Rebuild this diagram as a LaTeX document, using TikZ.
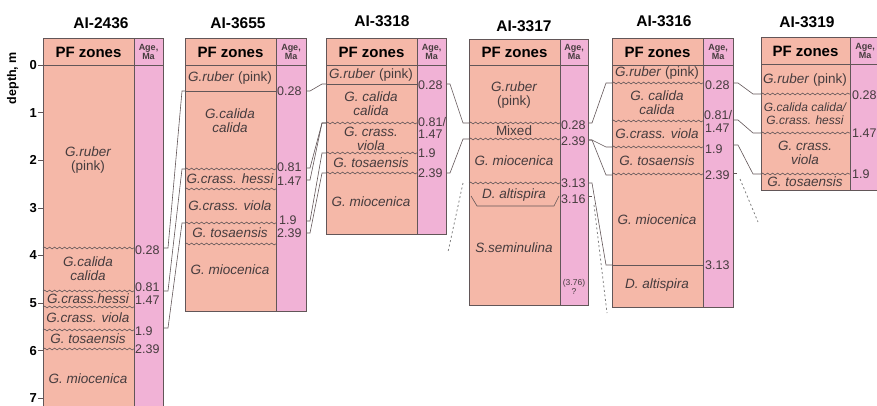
\documentclass[tikz,border=0pt]{standalone}
\usepackage{fontspec}
\setmainfont{Liberation Sans}
\usetikzlibrary{decorations.pathmorphing}
\definecolor{pfpink}{RGB}{245,184,168}
\definecolor{agepink}{RGB}{241,178,214}
\definecolor{frame}{RGB}{98,86,88}
\definecolor{ink}{RGB}{70,60,62}
\tikzset{
  pf/.style={fill=pfpink, draw=frame, line width=0.8pt},
  age/.style={fill=agepink, draw=frame, line width=0.8pt},
  wavy/.style={draw=frame, line width=0.6pt, decorate, decoration={snake, amplitude=0.9pt, segment length=5pt}},
  zone/.style={font=\fontsize{13.5}{14}\selectfont\itshape, text=ink, align=center, inner sep=0pt},
  ma/.style={font=\fontsize{12.5}{12}\selectfont, text=ink, anchor=west, inner sep=0pt},
  link/.style={draw=frame, line width=0.6pt},
  gap/.style={draw=gray, line width=0.8pt, dash pattern=on 2pt off 2.5pt},
  well/.style={font=\fontsize{15.5}{15}\selectfont\bfseries},
  head/.style={font=\fontsize{15}{15}\selectfont\bfseries, inner sep=0pt},
  headma/.style={font=\fontsize{9}{9}\selectfont\bfseries, text=ink, align=center, inner sep=0pt}
}
\begin{document}
\begin{tikzpicture}[x=1pt, y=-1pt]
\useasboundingbox (0,0) rectangle (877,405);

% depth scale
\node[rotate=90, font=\fontsize{12.5}{12}\selectfont\bfseries] (depth) at (13,78) {depth, m};
\foreach \d in {0,...,7} {
  \draw[frame, line width=0.6pt] (38,65+47.6*\d) -- (43,65+47.6*\d);
  \node[font=\fontsize{13}{13}\selectfont\bfseries, anchor=east, inner sep=1pt] (d\d) at (38,65+47.6*\d) {\d};
}

% AI-2436
\node[well] (t2436) at (101,23) {AI-2436};
\draw[pf] (43,38) rectangle (134,412);
\draw[age] (134,38) rectangle (163,412);
\draw[frame, line width=0.8pt] (43,65) -- (163,65);
\node[head] (p2436) at (88.5,52) {PF zones};
\node[headma] (m2436) at (148.5,52) {Age,\\Ma};
\foreach \y in {248,291,307,330,349} \draw[wavy] (43,\y) -- (134,\y);
\node[zone] (z2436a) at (88,160) {G.ruber\\\textup{(pink)}};
\node[zone] (z2436b) at (88,269) {G.calida\\calida};
\node[zone] (z2436c) at (88,299) {G.crass.hessi};
\node[zone] (z2436d) at (88,318) {G.crass. viola};
\node[zone] (z2436e) at (88,339) {G. tosaensis};
\node[zone] (z2436f) at (88,379) {G. miocenica};
\node[ma] (a2436a) at (135,250) {0.28};
\node[ma] (a2436b) at (135,287) {0.81};
\node[ma] (a2436c) at (135,300) {1.47};
\node[ma] (a2436d) at (135,331) {1.9};
\node[ma] (a2436e) at (135,349) {2.39};

% AI-3655
\node[well] (t3655) at (238,23) {AI-3655};
\draw[pf] (185,38) rectangle (276,311);
\draw[age] (276,38) rectangle (306,311);
\draw[frame, line width=0.8pt] (185,65) -- (306,65);
\draw[frame, line width=0.6pt] (185,91) -- (276,91);
\node[head] (p3655) at (230.5,52) {PF zones};
\node[headma] (m3655) at (291,52) {Age,\\Ma};
\foreach \y in {169,189,223,244} \draw[wavy] (185,\y) -- (276,\y);
\node[zone] (z3655a) at (230,78) {G.ruber \textup{(pink)}};
\node[zone] (z3655b) at (230,121) {G.calida\\calida};
\node[zone] (z3655c) at (230,179) {G.crass. hessi};
\node[zone] (z3655d) at (230,206) {G.crass. viola};
\node[zone] (z3655e) at (230,233) {G. tosaensis};
\node[zone] (z3655f) at (230,270) {G. miocenica};
\node[ma] (a3655a) at (277,91) {0.28};
\node[ma] (a3655b) at (277,167) {0.81};
\node[ma] (a3655c) at (277,181) {1.47};
\node[ma] (a3655d) at (279,220) {1.9};
\node[ma] (a3655e) at (277,233) {2.39};

% AI-3318
\node[well] (t3318) at (382,21) {AI-3318};
\draw[pf] (326,38) rectangle (417,234);
\draw[age] (417,38) rectangle (446,234);
\draw[frame, line width=0.8pt] (326,65) -- (446,65);
\draw[frame, line width=0.6pt] (326,84) -- (417,84);
\node[head] (p3318) at (371.5,52) {PF zones};
\node[headma] (m3318) at (431.5,52) {Age,\\Ma};
\foreach \y in {123,153,173} \draw[wavy] (326,\y) -- (417,\y);
\node[zone] (z3318a) at (371,75) {G.ruber \textup{(pink)}};
\node[zone] (z3318b) at (371,104) {G. calida\\calida};
\node[zone] (z3318c) at (371,139) {G. crass.\\viola};
\node[zone] (z3318d) at (371,163) {G. tosaensis};
\node[zone] (z3318e) at (371,202) {G. miocenica};
\node[ma] (a3318a) at (418,85) {0.28};
\node[ma] (a3318b) at (418,122) {0.81/};
\node[ma] (a3318c) at (418,134) {1.47};
\node[ma] (a3318d) at (418,153) {1.9};
\node[ma] (a3318e) at (418,173) {2.39};

% AI-3317
\node[well] (t3317) at (524,26) {AI-3317};
\draw[pf] (469,39) rectangle (560,305);
\draw[age] (560,39) rectangle (588,305);
\draw[frame, line width=0.8pt] (469,65) -- (588,65);
\node[head] (p3317) at (514.5,52) {PF zones};
\node[headma] (m3317) at (574,52) {Age,\\Ma};
\foreach \y in {123,139,183} \draw[wavy] (469,\y) -- (560,\y);
\draw[link] (471,196) -- (477,206) -- (554,206) -- (559,196);
\node[zone] (z3317a) at (514,95) {G.ruber\\\textup{(pink)}};
\node[zone, font=\fontsize{13.5}{14}\selectfont] (z3317b) at (514,131) {Mixed};
\node[zone] (z3317c) at (514,161) {G. miocenica};
\node[zone] (z3317d) at (514,195) {D. altispira};
\node[zone] (z3317e) at (514,248) {S.seminulina};
\node[ma] (a3317a) at (561,125) {0.28};
\node[ma] (a3317b) at (561,141) {2.39};
\node[ma] (a3317c) at (561,183) {3.13};
\node[ma] (a3317d) at (561,199) {3.16};
\node[ma, anchor=center, align=center, font=\fontsize{8.5}{9}\selectfont] (a3317e) at (574,287) {(3.76)\\?};

% AI-3316
\node[well] (t3316) at (664,21) {AI-3316};
\draw[pf] (612,38) rectangle (703,307);
\draw[age] (703,38) rectangle (733,307);
\draw[frame, line width=0.8pt] (612,65) -- (733,65);
\draw[frame, line width=0.6pt] (612,265) -- (703,265);
\node[head] (p3316) at (657.5,52) {PF zones};
\node[headma] (m3316) at (718,52) {Age,\\Ma};
\foreach \y in {83,121,147,174} \draw[wavy] (612,\y) -- (703,\y);
\node[zone] (z3316a) at (657,73) {G.ruber \textup{(pink)}};
\node[zone] (z3316b) at (657,103) {G. calida\\calida};
\node[zone] (z3316c) at (657,134) {G.crass. viola};
\node[zone] (z3316d) at (657,161) {G. tosaensis};
\node[zone] (z3316e) at (657,220) {G. miocenica};
\node[zone] (z3316f) at (657,285) {D. altispira};
\node[ma] (a3316a) at (705,85) {0.28};
\node[ma] (a3316b) at (704,115) {0.81/};
\node[ma] (a3316c) at (705,128) {1.47};
\node[ma] (a3316d) at (705,149) {1.9};
\node[ma] (a3316e) at (705,175) {2.39};
\node[ma] (a3316f) at (705,265) {3.13};

% AI-3319
\node[well] (t3319) at (807,22) {AI-3319};
\draw[pf] (761,37) rectangle (850,190);
\draw[age] (850,37) rectangle (880,190);
\draw[frame, line width=0.8pt] (761,64) -- (880,64);
\node[head] (p3319) at (805.5,51) {PF zones};
\node[headma] (m3319) at (865,51) {Age,\\Ma};
\foreach \y in {94,133,174} \draw[wavy] (761,\y) -- (850,\y);
\node[zone] (z3319a) at (805,80) {G.ruber \textup{(pink)}};
\node[zone, font=\fontsize{12}{13}\selectfont\itshape] (z3319b) at (805,114) {G.calida calida/\\G.crass. hessi};
\node[zone] (z3319c) at (805,153) {G. crass.\\viola};
\node[zone] (z3319d) at (805,182) {G. tosaensis};
\node[ma] (a3319a) at (852,95) {0.28};
\node[ma] (a3319b) at (852,133) {1.47};
\node[ma] (a3319c) at (852,174) {1.9};

% correlation lines
\coordinate (e1) at (163,248);  \coordinate (f1) at (185,91);
\coordinate (e2) at (163,291);  \coordinate (f2) at (185,169);
\coordinate (e3) at (163,328);  \coordinate (f3) at (185,223);
\coordinate (e4) at (306,91);   \coordinate (f4) at (326,84);
\coordinate (e5) at (306,168);  \coordinate (f5) at (326,123);
\coordinate (e6) at (306,180);
\coordinate (e7) at (306,221);  \coordinate (f7) at (326,153);
\coordinate (e8) at (306,233);  \coordinate (f8) at (326,173);
\coordinate (e9) at (446,84);   \coordinate (f9) at (469,123);
\coordinate (e10) at (446,173); \coordinate (f10) at (469,139);
\coordinate (e11) at (588,123); \coordinate (f11) at (612,83);
\coordinate (e12) at (588,140); \coordinate (f12) at (612,147);
\coordinate (f13) at (612,175);
\coordinate (e14) at (588,183); \coordinate (f14) at (612,265);
\coordinate (e16) at (733,83);  \coordinate (f16) at (761,94);
\coordinate (e17) at (733,120); \coordinate (f17) at (761,133);
\coordinate (e18) at (733,145); \coordinate (f18) at (761,174);

\foreach \a/\b in {e1/f1,e2/f2,e3/f3}
  \draw[link] (\a) -- ++(5,0) -- ([xshift=-3pt]\b) -- (\b);
\foreach \a/\b in {e4/f4,e5/f5,e6/f5,e7/f7,e8/f8}
  \draw[link] (\a) -- ++(4,0) -- ([xshift=-4pt]\b) -- (\b);
\foreach \a/\b in {e9/f9,e10/f10,e11/f11,e12/f12,e12/f13,e14/f14}
  \draw[link] (\a) -- ++(4,0) -- ([xshift=-6pt]\b) -- (\b);
\foreach \a/\b in {e16/f16,e17/f17,e18/f18}
  \draw[link] (\a) -- ++(5,0) -- ([xshift=-8pt]\b) -- (\b);

% missing intervals
\coordinate (g1) at (463,183); \coordinate (h1) at (448,252);
\coordinate (e15) at (588,196); \coordinate (g2) at (594,205); \coordinate (h2) at (607,313);
\coordinate (e19) at (733,173); \coordinate (g3) at (740,179); \coordinate (h3) at (758,222);
\draw[link] (e15) -- ++(4,0);
\draw[link] (e19) -- ++(4,0);
\draw[gap] (g1) -- (h1);
\draw[gap] (g2) -- (h2);
\draw[gap] (g3) -- (h3);
\end{tikzpicture}
\end{document}
